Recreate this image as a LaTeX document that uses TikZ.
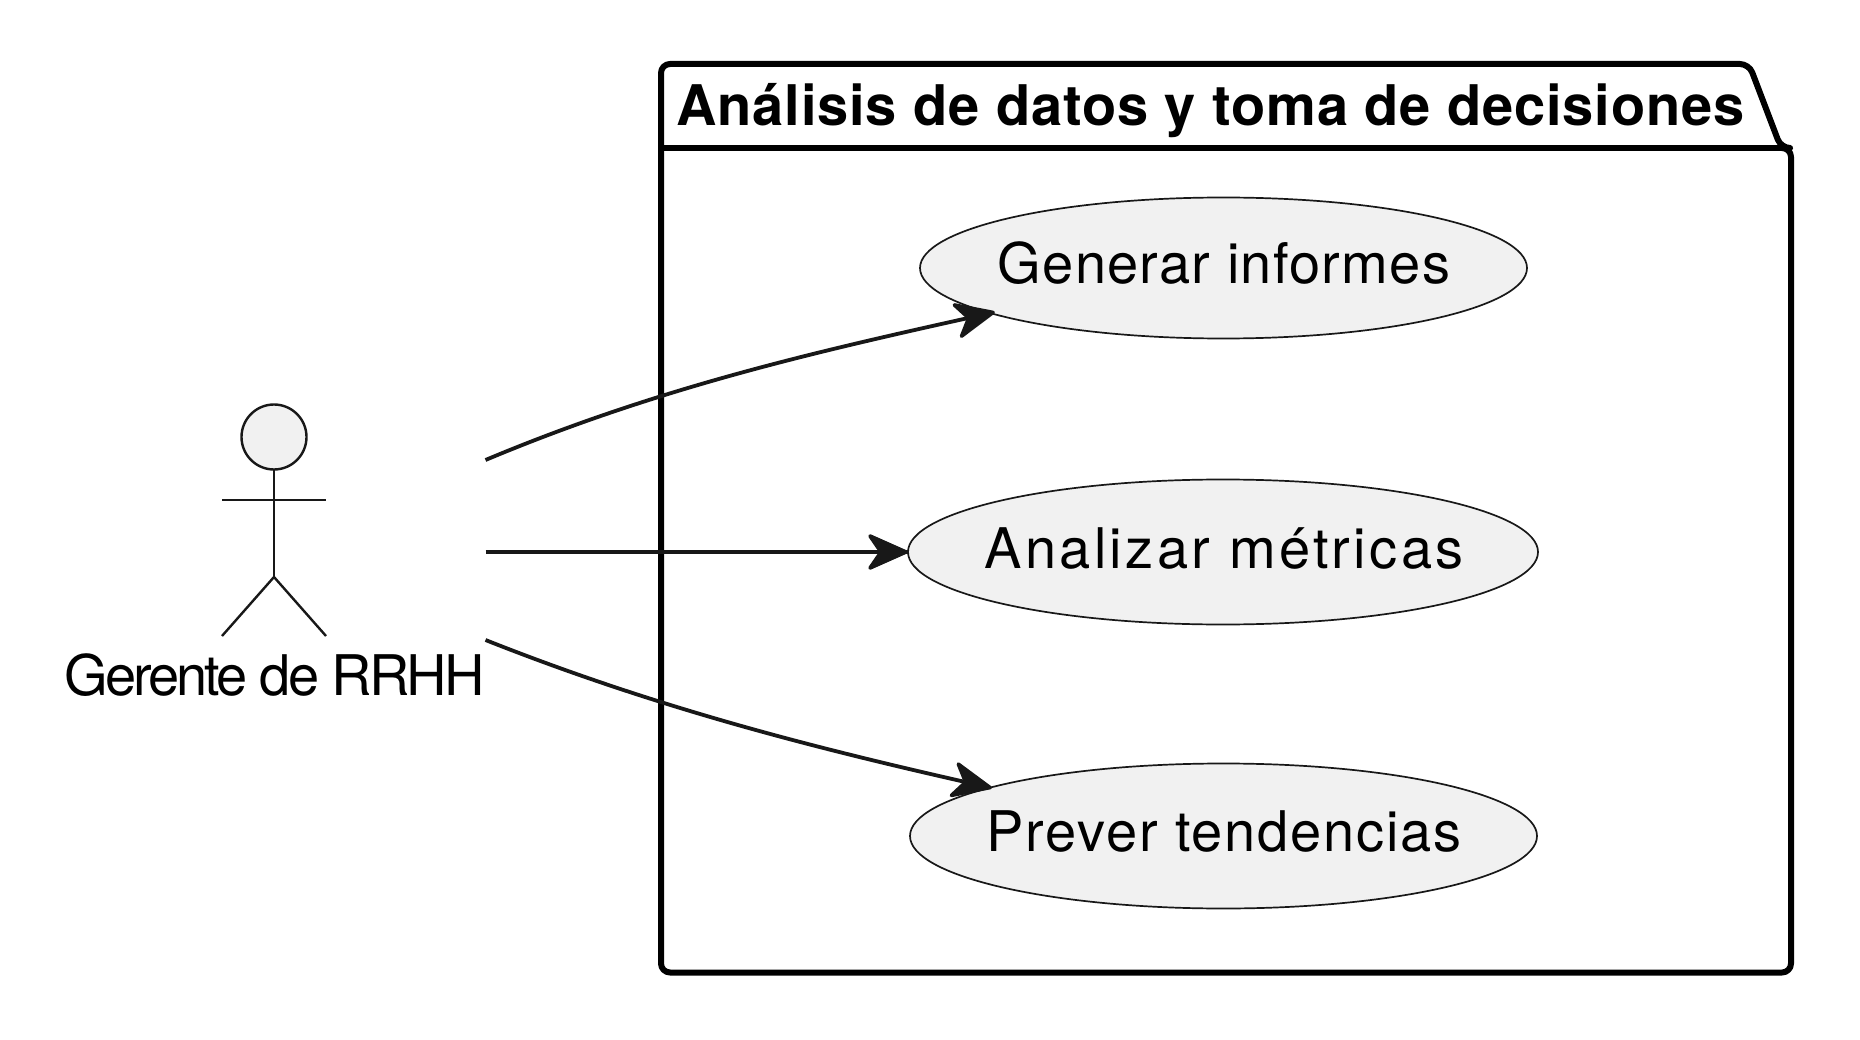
\documentclass[tikz,border=0pt]{standalone}
\usepackage{fontspec}
\usetikzlibrary{shapes.geometric}
\setmainfont{TeX Gyre Heros}
\newfontfamily\titlefont[LetterSpace=1.55]{TeX Gyre Heros Bold}
\newfontfamily\genfont[LetterSpace=2.2]{TeX Gyre Heros}
\newfontfamily\anafont[LetterSpace=6]{TeX Gyre Heros}
\newfontfamily\prefont[LetterSpace=3.2]{TeX Gyre Heros}
\newfontfamily\actfont[LetterSpace=-5.4]{TeX Gyre Heros}
\definecolor{lineC}{HTML}{181818}
\definecolor{fillC}{HTML}{F1F1F1}
\tikzset{
  usecase/.style={ellipse,draw=lineC,line width=1.7pt,fill=fillC,inner sep=0pt,outer sep=0pt,text=black},
  stick/.style={draw=lineC,line width=2.4pt},
  conn/.style={draw=lineC,line width=3.8pt},
  arrowhd/.style={fill=lineC,draw=lineC,line width=3.6pt,line join=round},
  frame/.style={draw=black,line width=6pt,fill=white,line join=round},
  lbl/.style={anchor=base,inner sep=0pt},
}
\newcommand{\headAt}[2]{\path[arrowhd,shift={(#1)},rotate=#2] (-2,0) -- (-38,-16) -- (-27,0) -- (-38,16) -- cycle;}
\begin{document}
\begin{tikzpicture}[x=1pt,y=-1pt]
\useasboundingbox (0,0) rectangle (1860,1040);
\path[frame,rounded corners=9pt] (661,148) -- (661,64) -- (1749,64) -- (1781,148) -- (1791,148) -- (1791,972.5) -- (661,972.5) -- cycle;
\path[frame,sharp corners,fill=none] (661,148) -- (1781,148);
\node[lbl,anchor=base west,font={\fontsize{56}{60}\titlefont}] (title) at (676,126) {Análisis de datos y toma de decisiones};

\node[usecase,minimum width=607,minimum height=141] (gen) at (1223.5,268) {};
\node[usecase,minimum width=630,minimum height=145] (ana) at (1223,552) {};
\node[usecase,minimum width=627,minimum height=145] (pre) at (1223.5,836) {};
\node[lbl,font={\fontsize{56}{60}\genfont}] (gent) at (1224,284) {Generar informes};
\node[lbl,font={\fontsize{56}{60}\anafont}] (anat) at (1224,568) {Analizar métricas};
\node[lbl,font={\fontsize{56}{60}\prefont}] (pret) at (1224,851) {Prever tendencias};

\node[circle,draw=lineC,line width=2.4pt,fill=fillC,minimum size=65,inner sep=0pt,outer sep=0pt] (head) at (274,437) {};
\coordinate (hip) at (274,577);
\coordinate (armL) at (222,500);
\coordinate (armR) at (326,500);
\coordinate (legL) at (222,636);
\coordinate (legR) at (326,636);
\draw[stick] (head.south) -- (hip);
\draw[stick] (armL) -- (armR);
\draw[stick,line join=round] (legL) -- (hip) -- (legR);
\node[lbl,font={\fontsize{56}{60}\actfont}] (actor) at (274.5,695) {Gerente de RRHH};

\coordinate (s1) at (485.5,460);
\coordinate (s2) at (485.5,552);
\coordinate (s3) at (485.5,640);
\coordinate (e1) at (975,316.5);
\coordinate (e3) at (972,783.5);
\coordinate (t1) at (995,312);
\coordinate (t3) at (992,788);
\draw[conn] (s1) .. controls (657,388) and (815,352) .. (e1);
\draw[conn] (s2) -- (ana.west);
\draw[conn] (s3) .. controls (657,708) and (815,748) .. (e3);
\headAt{t1}{13}
\headAt{ana.west}{0}
\headAt{t3}{-12.5}
\end{tikzpicture}
\end{document}
